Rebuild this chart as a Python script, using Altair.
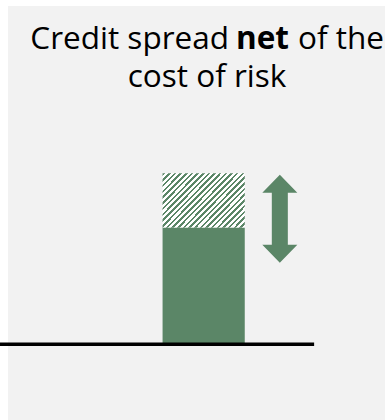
import altair as alt
import pandas as pd

# ---- data ----
segment_names = ["Net credit spread", "Cost of risk"]
segment_start = [0.0, 2.0]
segment_end = [2.0, 2.93]
bar_left = [4.10, 4.10]
bar_right = [6.28, 6.28]

arrow_x = [7.21]
arrow_y = [2.15]

baseline_from = [-0.212]
baseline_to = [8.12]
baseline_y = [0.0]

title_line1 = ["Credit spread", "net", "of the"]
title_line2 = ["cost of risk"]

# ---- styles ----
GREEN = "#5b8667"
FONT = "Open Sans"
FS = 31.5

xs = alt.Scale(domain=[0, 10])
ys = alt.Scale(domain=[-1.3, 5.8])

seg = pd.DataFrame({"name": segment_names, "y0": segment_start, "y1": segment_end,
                    "x0": bar_left, "x1": bar_right})

# hatch via hard-stop linear gradient (45deg stripes)
N = 24
f = 0.45
stops = []
for i in range(N):
    a = i / N
    b = (i + f) / N
    c = (i + 1) / N
    stops += [alt.GradientStop(color=GREEN, offset=a),
              alt.GradientStop(color=GREEN, offset=b),
              alt.GradientStop(color="white", offset=b),
              alt.GradientStop(color="white", offset=c)]
hatch = alt.LinearGradient(gradient="linear", stops=stops, x1=0, y1=0, x2=1.16, y2=0.754)

solid = alt.Chart(seg).transform_filter(alt.datum.name == "Net credit spread").mark_bar(
    color=GREEN, opacity=1
).encode(
    x=alt.X("x0:Q", scale=xs, axis=None), x2="x1:Q",
    y=alt.Y("y0:Q", scale=ys, axis=None), y2="y1:Q",
)

hatched = alt.Chart(seg).transform_filter(alt.datum.name == "Cost of risk").mark_bar(
    color=hatch, opacity=1
).encode(
    x=alt.X("x0:Q", scale=xs, axis=None), x2="x1:Q",
    y=alt.Y("y0:Q", scale=ys, axis=None), y2="y1:Q",
)

arrow_path = ("M0,-1 L0.398,-0.591 L0.182,-0.591 L0.182,0.591 L0.398,0.591 L0,1 "
              "L-0.398,0.591 L-0.182,0.591 L-0.182,-0.591 L-0.398,-0.591 Z")
arrow = alt.Chart(pd.DataFrame({"x": arrow_x, "y": arrow_y})).mark_point(
    shape=arrow_path, filled=True, opacity=1, color=GREEN, size=88 * 88, strokeWidth=0
).encode(
    x=alt.X("x:Q", scale=xs, axis=None),
    y=alt.Y("y:Q", scale=ys, axis=None),
)

baseline = alt.Chart(pd.DataFrame({"a": baseline_from, "b": baseline_to, "y": baseline_y})).mark_rule(
    color="black", strokeWidth=3.5
).encode(
    x=alt.X("a:Q", scale=xs, axis=None), x2="b:Q",
    y=alt.Y("y:Q", scale=ys, axis=None),
)

def txt(s, x, y, align, weight="normal"):
    return alt.Chart(pd.DataFrame({"t": [s]})).mark_text(
        align=align, baseline="alphabetic", font=FONT, fontSize=FS,
        fontWeight=weight, color="black"
    ).encode(x=alt.value(x), y=alt.value(y), text="t:N")

t1 = txt(title_line1[0], 221, 43, "right")
t2 = txt(title_line1[1], 228, 43, "left", "bold")
t3 = txt(title_line1[2], 290, 43, "left")
t4 = txt(title_line2[0], 199, 81, "center")

chart = alt.layer(solid, hatched, arrow, baseline, t1, t2, t3, t4).properties(
    width=377, height=414, autosize="none",
    padding={"left": 8, "top": 6, "right": 0, "bottom": 0},
    background="white",
).configure_view(fill="#f2f2f2", strokeWidth=0)

chart.save("out.html", embed_options={"renderer": "svg", "actions": False})
